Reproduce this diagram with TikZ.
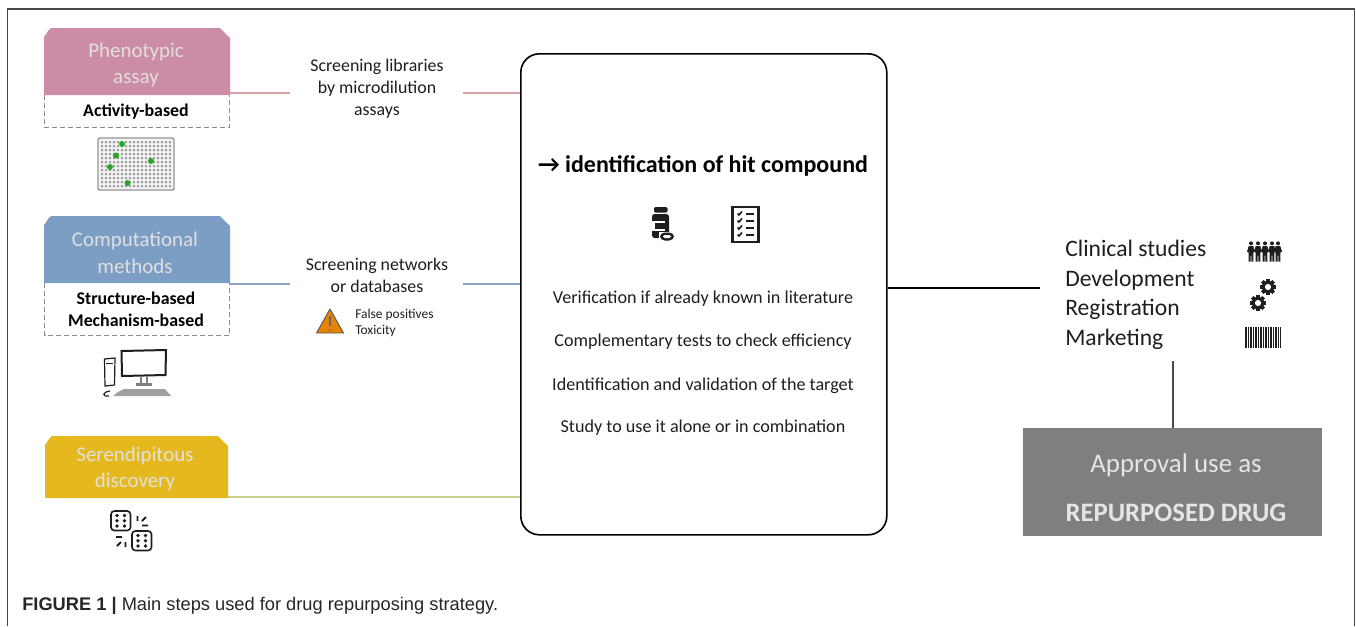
\documentclass[tikz,border=0pt]{standalone}
\usepackage{fontspec}
\setmainfont{Carlito}
\newfontfamily\capfont{Liberation Sans}
\usetikzlibrary{calc}
\definecolor{pinkc}{HTML}{CC8CA6}
\definecolor{bluec}{HTML}{7C9DC4}
\definecolor{yelc}{HTML}{E5B91E}
\definecolor{greyc}{HTML}{7F7F7F}
\definecolor{framec}{HTML}{4A4A4A}
\definecolor{pinkl}{HTML}{D9A0A8}
\definecolor{bluel}{HTML}{8CA3C4}
\definecolor{yell}{HTML}{CBCF8E}
\definecolor{dashc}{HTML}{8A8A8A}
\definecolor{inkc}{HTML}{1E1E1E}
\tikzset{
  x=0.75pt,y=-0.75pt,
  txt/.style={align=center,text=inkc,inner sep=0pt},
  head/.style={align=center,text=white!88!black,font=\fontsize{15.7}{20}\selectfont,inner sep=0pt},
  tag/.style={align=center,text=black,font=\bfseries\fontsize{13.4}{16}\selectfont,inner sep=0pt},
  mid/.style={txt,font=\fontsize{13.4}{16.5}\selectfont},
  step text/.style={txt,font=\fontsize{13.6}{15}\selectfont},
  right text/.style={txt,align=left,font=\fontsize{17.7}{22.2}\selectfont},
  dashbox/.style={draw=dashc,line width=0.8pt,dash pattern=on 3.5pt off 2.5pt},
  ghost/.style={inner sep=0pt},
  link/.style={line width=0.8pt},
  icon/.style={draw=inkc,line width=1pt,fill=none},
}
\newcommand{\tabshape}[5]{% left, top, right, bottom, colour
  \fill[#5] (#1,#4) -- (#1,#2+8) to[out=-90,in=180] (#1+8,#2) -- (#3-10,#2) -- (#3,#2+10) -- (#3,#4) -- cycle;}
\newcommand{\gear}[3]{% x, y, radius
  \foreach \a in {0,45,...,315}{\fill[inkc,rotate around={\a:(#1,#2)}] (#1-#3*0.3,#2-#3*1.3) rectangle (#1+#3*0.3,#2);}
  \fill[inkc] (#1,#2) circle[radius=#3];
  \fill[white] (#1,#2) circle[radius=#3*0.5];}
\newcommand{\die}[2]{% x, y (top-left)
  \draw[icon,line width=1.2pt,rounded corners=2.5pt] (#1,#2) rectangle ++(19.5,19.5);
  \foreach \u in {6,13.5}{\foreach \v in {4.5,9.75,15}{\fill[inkc] (#1+\u,#2+\v) circle[radius=1.9];}}}
\newcommand{\person}[2]{% x, y (top centre)
  \fill[inkc] (#1,#2+1.8) circle[radius=2];
  \fill[inkc] (#1-4,#2+10) -- (#1-2.2,#2+4.5) -- (#1+2.2,#2+4.5) -- (#1+4,#2+10) -- (#1+2.4,#2+11) -- (#1+2.4,#2+20) -- (#1+0.4,#2+20) -- (#1+0.4,#2+14) -- (#1-0.4,#2+14) -- (#1-0.4,#2+20) -- (#1-2.4,#2+20) -- (#1-2.4,#2+11) -- cycle;}
\begin{document}
\begin{tikzpicture}
\useasboundingbox (0,0) rectangle (1356,626);
% outer frame
\draw[framec,line width=0.9pt] (7.5,626) -- (7.5,9) -- (1354.5,9) -- (1354.5,626);

% left column
\tabshape{44}{28}{230}{95}{pinkc}
\node[head] (pheno) at (136,65) {Phenotypic\\assay};
\node[ghost,minimum width=184*0.75pt,minimum height=32*0.75pt,anchor=north west] (activity) at (44.5,95) {};
\draw[dashbox] (activity.north west) -- (activity.south west) -- (activity.south east) -- (activity.north east);
\node[tag] at (136,112) {Activity-based};

\tabshape{44}{216}{230}{283}{bluec}
\node[head] (comp) at (135,252.5) {Computational\\methods};
\node[ghost,minimum width=184*0.75pt,minimum height=52*0.75pt,anchor=north west] (struct) at (44.5,283) {};
\draw[dashbox] (struct.north west) -- (struct.south west) -- (struct.south east) -- (struct.north east);
\node[tag,font=\bfseries\fontsize{13.4}{16.2}\selectfont] at (136,309.5) {Structure-based\\Mechanism-based};

\tabshape{45}{436}{228}{498}{yelc}
\node[head] (seren) at (135,469) {Serendipitous\\discovery};

% plate icon
\draw[draw=gray!85,fill=gray!8,line width=1pt,rounded corners=1.5pt] (98,138) rectangle (174,190);
\foreach \i in {0,...,17}{\foreach \j in {0,...,11}{
  \fill[gray!75] (102+\i*4,142+\j*4) circle[radius=1.5];}}
\foreach \p/\q in {122/144,116/155.5,110/167,151/161,127.5/183}{
  \fill[green!60!black!85!white] (\p,\q) circle[radius=3];}

% computer icon
\draw[icon,line width=1.5pt] (121.5,351) -- (166,350) -- (165.5,375) -- (122,376) -- cycle;
\draw[icon,line width=0.9pt] (104.5,359) -- (115,358) -- (114.5,385) -- (105,386) -- cycle;
\draw[icon,line width=0.6pt] (106,363) -- (113,363);
\draw[gray,line width=0.8pt] (141,376) -- (141,383) (147,376) -- (147,383);
\fill[gray] (136,383) rectangle (152,386);
\fill[gray!75] (118,392) -- (124,389) -- (165,389) -- (171,396) -- (113,396) -- cycle;
\draw[icon,line width=0.9pt] (110,391) .. controls (102,392) and (102,397) .. (109,396);

% warning and its texts
\fill[orange!85!yellow!90!black,draw=black!65,line width=0.7pt,line join=round] (330,309) -- (343.5,333) -- (316.5,333) -- cycle;
\draw[black!60,line width=1.4pt] (330,316) -- (330,326);
\fill[black!60] (330,330) circle[radius=1];
\node[txt,align=left,anchor=north west,font=\fontsize{10.1}{11.8}\selectfont] (warn) at (355,309) {False positives\\Toxicity};

% dice icon
\die{111}{511}
\die{132}{531}
\draw[icon,line width=1.4pt] (137.5,516) -- (137.5,521) (146,517) -- (142,521) (142,525.5) -- (148,525.5)
  (116,537) -- (122,537) (121,542) -- (117,546) (125.5,542) -- (125.5,547);

% middle labels
\node[mid] (libs) at (377,89) {Screening libraries\\by microdilution\\assays};
\node[mid] (nets) at (377,275) {Screening networks\\or databases};

% central box
\node[draw=black,line width=1.2pt,rounded corners=14pt,anchor=north west,minimum width=366*0.75pt,minimum height=481*0.75pt,inner sep=0pt] (centre) at (520,53) {};
\node[txt,text=black,font=\bfseries\fontsize{18}{20}\selectfont] (hit) at (703,166) {→ identification of hit compound};
\node[step text] (s1) at (703,298.5) {Verification if already known in literature};
\node[step text] (s2) at (703,342) {Complementary tests to check efficiency};
\node[step text] (s3) at (703,385.5) {Identification and validation of the target};
\node[step text] (s4) at (703,428) {Study to use it alone or in combination};

% bottle icon
\fill[inkc,rounded corners=1pt] (654,207) rectangle (667.5,212.5);
\fill[inkc,rounded corners=2pt] (652,214) rectangle (669,238);
\fill[white] (652,221) rectangle (665,231);
\fill[inkc] (655,223) rectangle (669,229);
\fill[white] (659,231.5) rectangle (675,241.5);
\fill[inkc,rounded corners=3.5pt] (660,232.5) rectangle (674,240.5);
\fill[white,rounded corners=1.5pt] (663,235) rectangle (671,238);

% checklist icon
\draw[icon,line width=1.9pt] (732.5,207) rectangle (758.5,242);
\foreach \yy in {213.5,220.5,227.5,234.5}{
  \draw[inkc,line width=1.2pt] (737.5,\yy) -- (739,\yy+1.5) -- (742,\yy-2);
  \draw[inkc,line width=1.5pt] (746,\yy) -- (754,\yy);
}

% right column
\node[right text,anchor=north west] (steps) at (1065,240) {Clinical studies\\Development\\Registration\\Marketing};
\foreach \xx in {1251,1258,1265,1272,1278}{\person{\xx}{241.5}}
\gear{1268}{287}{6.2}
\gear{1258}{303}{6.2}
\foreach \xx/\w in {1245/1.8,1248/1,1250/1.8,1253/1,1255/1.8,1258/1,1260/2,1263/1,1265/1.8,1268/1,1270/1.8,1273/1,1275/1.8,1278/1,1280/1.4}{
  \fill[inkc] (\xx,327) rectangle (\xx+\w,348);}

\node[fill=greyc,anchor=north west,minimum width=299*0.75pt,minimum height=108*0.75pt,inner sep=0pt] (approval) at (1023,428) {};
\node[align=center,text=white!90!black,inner sep=0pt,font=\fontsize{20.2}{24}\selectfont] at (1176,465) {Approval use as};
\node[align=center,text=white!90!black,inner sep=0pt,font=\bfseries\fontsize{20}{24}\selectfont] at (1176,513) {REPURPOSED DRUG};

% connectors
\coordinate (pinkout) at (230,93);
\coordinate (blueout) at (230,284);
\coordinate (yelout) at (228,497);
\coordinate (libsL) at (290,93);
\coordinate (libsR) at (463,93);
\coordinate (netsL) at (290,284);
\coordinate (netsR) at (463,284);
\draw[link,pinkl] (pinkout) -- (libsL);
\draw[link,pinkl] (libsR) -- (centre.west |- libsR);
\draw[link,bluel] (blueout) -- (netsL);
\draw[link,bluel] (netsR) -- (centre.west |- netsR);
\draw[link,yell,line width=1.1pt] (yelout) -- (centre.west |- yelout);
\coordinate (stepsL) at (1040,288);
\draw[black,line width=1.1pt] (centre.east |- stepsL) -- (stepsL);
\coordinate (stepsB) at (1173,361);
\draw[framec,line width=1.1pt] (stepsB) -- (stepsB |- approval.north);

% caption
\node[anchor=base west,inner sep=0pt,text=black!85,font=\capfont\fontsize{13.7}{16}\selectfont] (cap) at (22,610) {\textbf{FIGURE 1 |} Main steps used for drug repurposing strategy.};
\end{tikzpicture}
\end{document}
